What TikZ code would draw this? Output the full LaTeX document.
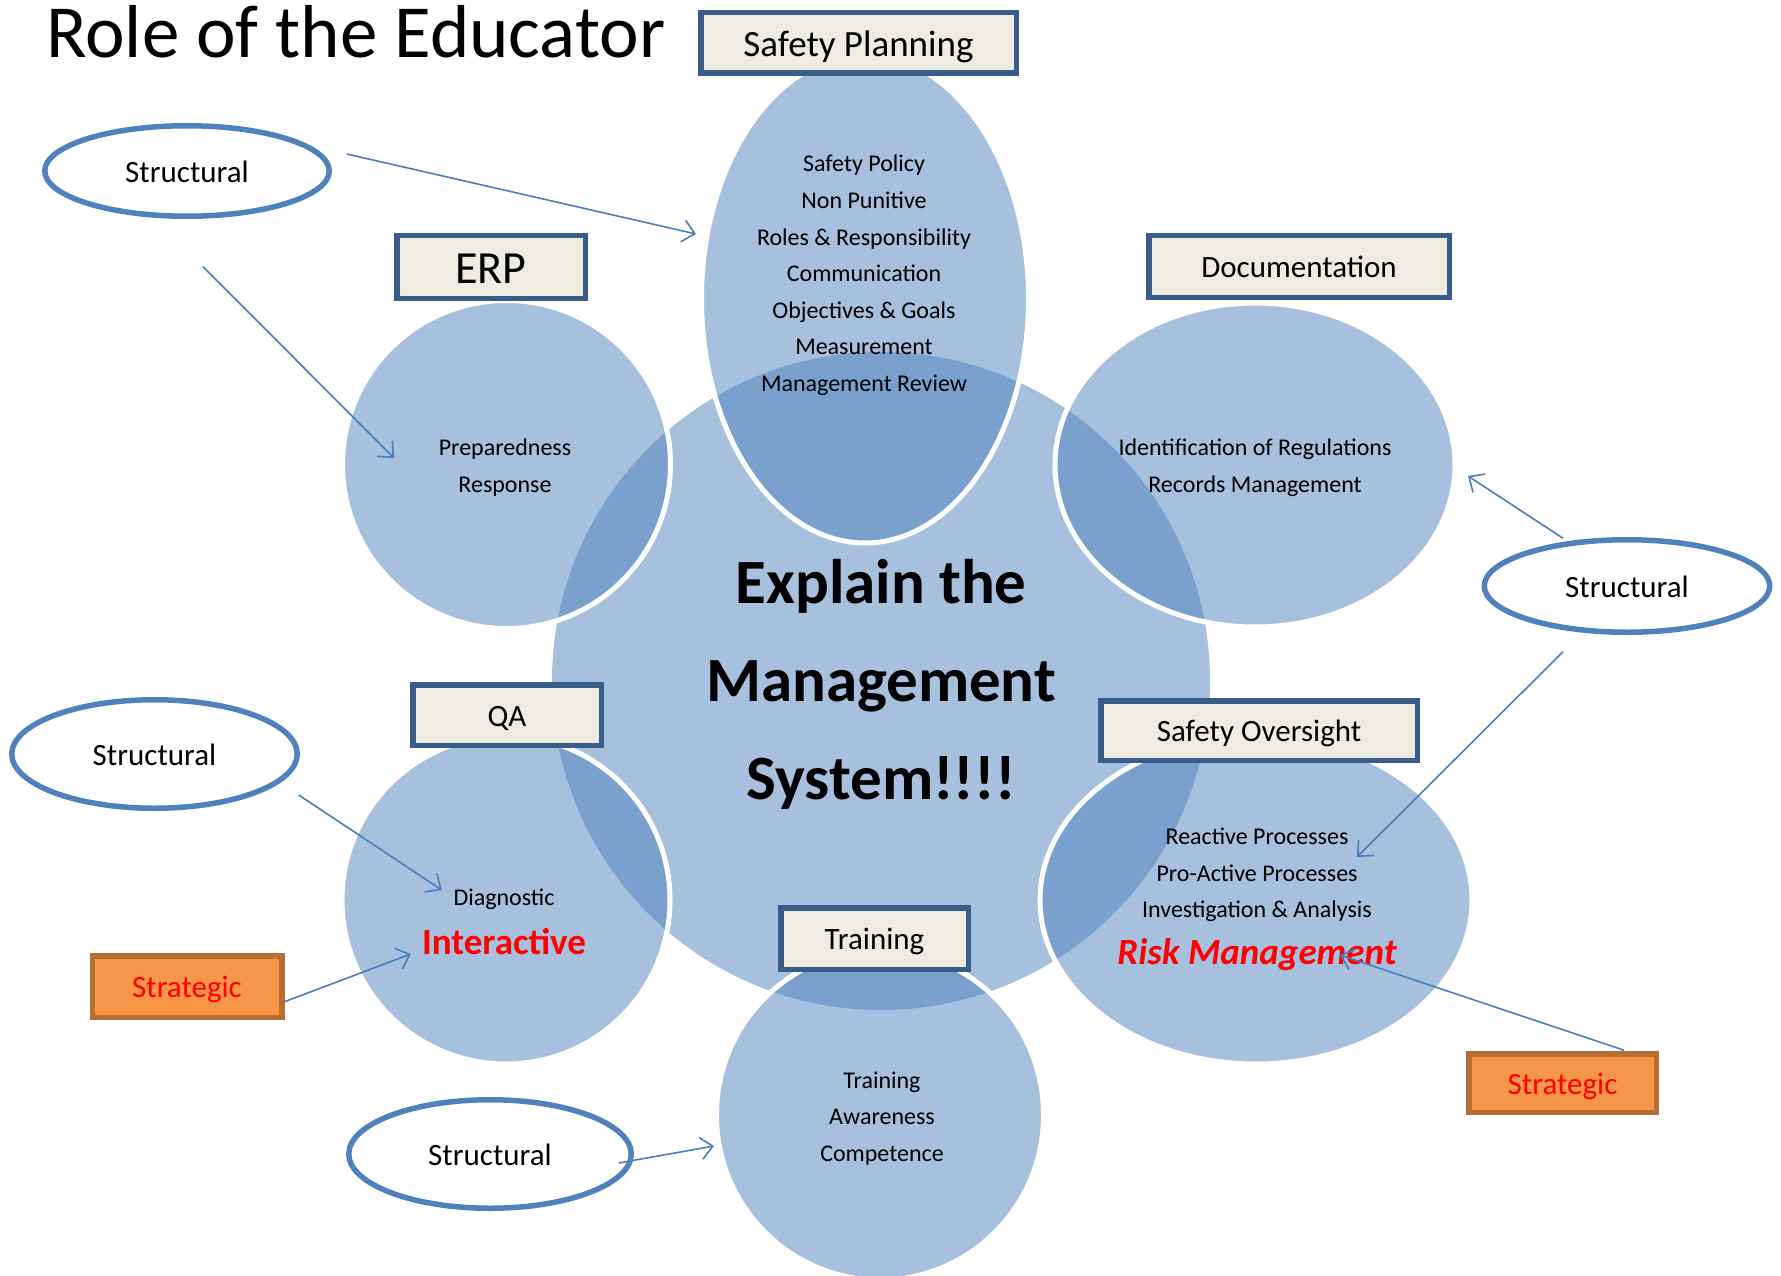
\documentclass[tikz,border=0pt]{standalone}
\usepackage{fontspec}
\setmainfont{Carlito}
\usepackage{tikz}
\usetikzlibrary{shapes.geometric, arrows.meta, positioning}

\definecolor{accent}{HTML}{4F81BD}
\definecolor{boxline}{HTML}{385D8A}
\definecolor{boxfill}{HTML}{EEECE1}
\definecolor{stratfill}{HTML}{F79646}
\definecolor{stratline}{HTML}{B66D31}
\definecolor{linkblue}{HTML}{4A7EBB}
\newcommand{\sz}[2]{\fontsize{#1}{#2}\selectfont}

\begin{document}
\begin{tikzpicture}[x=1pt, y=-1pt,
        hub/.style={circle, inner sep=0pt, outer sep=0pt, fill=accent, fill opacity=.5},
        blob/.style={ellipse, inner sep=0pt, outer sep=0pt, fill=accent, fill opacity=.5,
                draw=white, line width=5pt},
        headbox/.style={rectangle, draw=boxline, fill=boxfill, line width=5.5pt,
                inner sep=0pt, outer sep=0pt, text height=22.3pt, text depth=0pt, font=\sz{31}{37}},
        tag/.style={ellipse, draw=accent, fill=white, line width=5.5pt,
                inner sep=0pt, outer sep=0pt, text height=22.3pt, text depth=0pt, font=\sz{31}{37}},
        strat/.style={rectangle, draw=stratline, fill=stratfill, line width=5.5pt, text=red,
                inner sep=0pt, outer sep=0pt, text height=22.3pt, text depth=0pt, font=\sz{31}{37}},
        txt/.style={inner sep=0pt, align=center, font=\sz{24}{36.6}},
        hot/.style={inner sep=0pt, text=red},
        link/.style={draw=linkblue, line width=1.6pt, -{Straight Barb[length=12pt, width=22pt]}}
    ]
    \useasboundingbox (0,0) rectangle (1781,1276);

    % Title
    \node[anchor=base west, inner sep=0pt, font=\sz{75}{90}] (title) at (46,58) {Role of the Educator};

    % Centre circle
    \node[hub, minimum size=658pt] (hub) at (881,681) {};

    % Satellites
    \node[blob, minimum width=327pt, minimum height=488pt] (plan) at (865,299) {};
    \node[blob, minimum width=328pt, minimum height=328pt] (erp) at (506.5,464.5) {};
    \node[blob, minimum width=400pt, minimum height=324pt] (docu) at (1255,465) {};
    \node[blob, minimum width=328pt, minimum height=328pt] (qa) at (506,900) {};
    \node[blob, minimum width=432pt, minimum height=328pt] (over) at (1256,900) {};
    \node[blob, minimum width=327pt, minimum height=330pt] (train) at (880,1115) {};

    % Centre text
    \node[txt, font=\bfseries\sz{63}{98}] (hubtext) at (881,684.5) {Explain the\\Management\\System!!!!};

    % Texts in the satellites
    \node[txt] (plantext) at (864,275.5) {Safety Policy\\Non Punitive\\Roles \& Responsibility\\Communication\\Objectives \& Goals\\Measurement\\Management Review};
    \node[txt] (erptext) at (505,467.5) {Preparedness\\Response};
    \node[txt] (docutext) at (1255,467.5) {Identification of Regulations\\Records Management};
    \node[txt] (diag) at (504,899.5) {Diagnostic};
    \node[hot, font=\bfseries\sz{37}{44}] (inter) at (504,941.5) {Interactive};
    \node[txt] (overtext) at (1257,875) {Reactive Processes\\Pro-Active Processes\\Investigation \& Analysis};
    \node[hot, font=\bfseries\itshape\sz{37}{44}] (risk) at (1257,955) {Risk Management};
    \node[txt] (traintext) at (882,1118.5) {Training\\Awareness\\Competence};

    % Heading boxes
    \node[headbox, minimum width=315.5pt, minimum height=60.5pt, text height=26.6pt, font=\sz{37}{44}] (planbox) at (858.5,43) {Safety Planning};
    \node[headbox, minimum width=188.5pt, minimum height=62.5pt, text height=33pt, font=\sz{46}{55}] (erpbox) at (491,267) {ERP};
    \node[headbox, minimum width=300.5pt, minimum height=61.5pt] (docubox) at (1299,266.5) {Documentation};
    \node[headbox, minimum width=188.5pt, minimum height=60.5pt] (qabox) at (507,715) {QA};
    \node[headbox, minimum width=316.5pt, minimum height=59.5pt] (overbox) at (1259,730.5) {Safety Oversight};
    \node[headbox, minimum width=187.5pt, minimum height=61.5pt] (trainbox) at (874.5,938.5) {Training};

    % Structural / Strategic tags
    \node[tag, minimum width=284.5pt, minimum height=90.5pt] (struct1) at (187,171) {Structural};
    \node[tag, minimum width=285.5pt, minimum height=108.5pt] (struct2) at (154.5,754) {Structural};
    \node[tag, minimum width=282.5pt, minimum height=108.5pt] (struct3) at (490,1154) {Structural};
    \node[tag, minimum width=285.5pt, minimum height=92.5pt] (struct4) at (1627,586) {Structural};
    \node[strat, minimum width=189.5pt, minimum height=61.5pt] (strat1) at (187,986.5) {Strategic};
    \node[strat, minimum width=187.5pt, minimum height=58.5pt] (strat2) at (1562.5,1083) {Strategic};

    % Arrows
    \draw[link] ([shift={(17.5,-17)}]struct1.east) -- ([shift={(-5.5,-65)}]plan.west);
    \draw[link] ([shift={(16,50.5)}]struct1.south) -- ([shift={(51.5,-6.5)}]erp.west);
    \draw[link] ([shift={(1.5,41)}]struct2.east) -- ([shift={(-11.5,-9.5)}]diag.west);
    \draw[link] ([shift={(2,15.5)}]strat1.east) -- ([shift={(-11,12.5)}]inter.west);
    \draw[link] ([shift={(-12.5,9)}]struct3.east) -- ([shift={(-2.5,31)}]train.west);
    \draw[link] ([shift={(-64,-1.5)}]struct4.north) -- ([shift={(13,11)}]docu.east);
    \draw[link] ([shift={(-64,19.5)}]struct4.south) -- ([shift={(101,-43)}]over.center);
    \draw[link] ([shift={(61.5,-3.5)}]strat2.north) -- ([shift={(83,0)}]risk.center);
\end{tikzpicture}
\end{document}
